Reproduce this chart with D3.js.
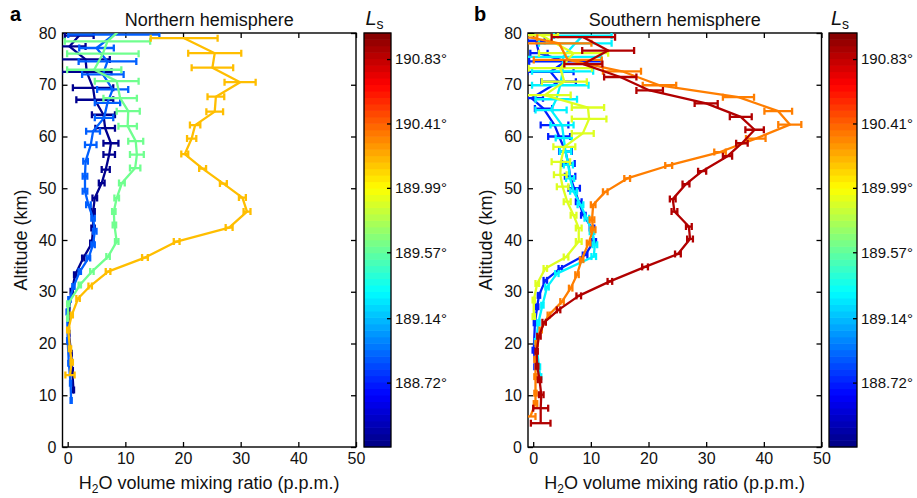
<!DOCTYPE html>
<html>
<head>
<meta charset="utf-8">
<script src="https://cdn.jsdelivr.net/npm/d3@7"></script>
<style>
body { margin: 0; background: #fff; }
svg { font-family: "Liberation Sans", Arial, Helvetica, sans-serif; }
</style>
</head>
<body>
<svg></svg>
<script>
const width = 917;
const height = 498;

// profiles: [altitude km, H2O ppm, error ppm]
const north_188_34 = [[79.5,2.0,2.5],[77.4,0.3,2.8],[74.9,3.1,4.2],[72.5,3.3,4.3],[69.4,4.4,3.5],[67.1,4.7,3.2],[64.2,6.2,2.0],[61.6,6.5,1.7],[58.7,7.5,1.3],[56.5,7.2,1.0],[53.6,6.6,0.7],[51.0,5.9,0.5],[48.1,4.7,0.4],[45.5,4.4,0.3],[42.3,4.4,0.3],[39.4,4.2,0.3],[36.5,2.7,0.2],[33.3,1.3,0.2],[30.1,0.7,0.2],[26.4,0.2,0.1],[22.0,0.2,0.1],[18.1,0.6,0.1],[14.8,0.8,0.1],[11.0,1.0,0.1]];
const north_188_89 = [[79.7,8.0,7.9],[77.1,5.0,3.0],[74.5,6.9,5.0],[72.0,6.1,3.6],[69.1,7.8,2.7],[66.5,6.9,2.2],[63.6,6.3,1.6],[61.0,4.4,1.2],[58.4,4.0,1.0],[55.2,3.1,0.4],[52.3,3.0,0.4],[49.4,3.0,0.4],[46.8,3.6,0.4],[44.2,4.4,0.3],[41.7,4.7,0.3],[39.1,4.4,0.3],[36.5,3.6,0.3],[33.9,2.1,0.2],[31.0,1.0,0.2],[28.5,0.3,0.2],[26.1,-0.1,0.1],[20.6,0.0,0.1],[16.2,0.2,0.1],[12.3,0.5,0.1],[9.0,0.6,0.1]];
const north_189_61 = [[81.0,9.5,8.0],[78.4,6.9,7.4],[76.0,6.1,6.2],[72.9,4.6,4.7],[70.7,8.5,3.8],[67.4,9.1,2.9],[64.9,10.5,2.0],[62.0,10.4,1.6],[59.1,11.8,1.3],[56.5,12.0,1.2],[53.9,11.7,0.9],[51.0,9.4,0.5],[48.1,8.5,0.4],[45.5,8.0,0.3],[42.9,8.1,0.3],[39.7,8.5,0.3],[36.8,7.0,0.3],[33.9,4.2,0.3],[31.3,2.1,0.2],[27.7,0.1,0.2],[24.9,0.0,0.1]];
const north_190_16 = [[79.0,20.2,5.8],[76.1,25.5,4.6],[73.3,25.1,3.6],[70.5,29.9,2.7],[67.7,25.7,1.45],[64.8,25.5,1.45],[62.2,22.1,0.9],[59.6,21.5,0.8],[56.6,20.3,0.6],[53.8,23.4,0.6],[50.9,27.0,0.6],[48.2,30.3,0.6],[45.5,31.1,0.6],[42.4,28.0,0.6],[39.7,18.9,0.5],[36.6,13.4,0.5],[33.9,7.0,0.4],[31.1,3.9,0.3],[28.7,1.8,0.3],[25.5,0.7,0.2],[22.6,0.1,0.2],[19.0,0.4,0.2],[16.4,0.7,0.2],[13.9,0.4,0.8]];

const south_188_72 = [[78.5,0.5,1.5],[76.1,1.0,1.5],[74.5,5.6,6.3],[72.5,3.0,4.0],[70.6,4.4,3.0],[67.4,-0.3,2.0],[65.4,1.8,1.5],[62.2,3.7,2.4],[60.0,4.5,1.9],[57.1,5.6,1.1],[54.8,6.1,1.1],[52.3,6.4,0.9],[50.0,7.1,1.0],[47.4,7.9,0.5],[44.8,8.7,0.4],[42.3,10.2,0.4],[39.7,10.5,0.4],[37.1,9.0,0.4],[34.5,4.7,0.3],[32.2,2.1,0.3],[29.3,1.0,0.2],[27.1,0.7,0.2],[24.0,0.3,0.2],[18.7,0.1,0.2],[15.5,0.4,0.2]];
const south_189_28 = [[79.5,8.6,5.0],[78.0,7.3,6.3],[75.4,5.2,6.6],[72.6,5.1,5.3],[69.9,4.7,4.9],[67.2,4.0,3.6],[65.1,3.1,2.7],[62.2,5.0,2.0],[59.7,5.3,1.4],[57.1,5.6,1.0],[54.5,6.1,0.8],[51.9,6.4,0.7],[49.4,7.0,0.6],[46.8,8.2,0.5],[44.2,9.3,0.4],[41.6,10.2,0.4],[39.1,10.7,0.4],[36.8,10.5,0.4],[33.5,4.1,0.3],[30.9,2.4,0.3],[27.4,1.6,0.2],[24.0,0.9,0.2],[20.4,0.5,0.2],[15.5,1.0,0.2],[13.6,1.2,0.2]];
const south_189_90 = [[79.6,1.3,3.0],[76.1,7.0,6.0],[73.2,4.7,5.5],[70.6,5.4,3.9],[68.0,2.0,4.5],[65.6,9.5,2.8],[63.4,9.7,3.0],[60.6,8.6,1.9],[58.0,5.4,1.9],[55.1,4.8,1.6],[52.6,4.7,1.1],[50.3,5.1,1.0],[47.4,5.9,0.6],[44.8,7.0,0.5],[42.3,7.9,0.5],[39.7,7.9,0.5],[36.7,5.7,0.4],[34.5,2.1,0.3],[31.6,0.7,0.3],[28.4,0.1,0.2],[25.2,0.1,0.2]];
const south_190_33 = [[79.1,-0.3,1.0],[78.0,4.5,5.6],[74.8,6.0,5.9],[72.6,15.4,3.3],[69.9,21.9,2.9],[67.6,35.6,2.7],[64.9,42.5,2.4],[62.3,44.5,2.0],[59.6,38.6,1.7],[57.0,32.4,1.0],[54.4,23.5,0.6],[51.9,16.3,0.5],[49.3,12.5,0.4],[46.8,10.4,0.4],[43.9,10.2,0.4],[42.0,10.4,0.4],[39.4,9.6,0.3],[36.2,8.4,0.3],[33.3,7.6,0.3],[30.7,6.5,0.3],[28.1,5.0,0.3],[25.5,2.7,0.2],[22.6,1.3,0.2],[20.0,0.6,0.2],[16.9,0.4,0.2],[13.6,0.4,0.2],[10.4,0.4,0.2],[8.4,0.4,0.3],[5.9,-0.5,0.9]];
const south_190_87 = [[79.2,8.7,5.5],[76.6,13.0,4.5],[74.0,8.7,3.3],[71.5,15.1,2.8],[68.9,20.2,2.3],[66.4,30.0,2.0],[63.8,36.0,1.9],[61.3,38.4,1.6],[58.7,36.2,1.0],[56.2,33.7,0.8],[53.3,29.3,0.7],[50.8,26.5,0.6],[47.9,24.2,0.5],[45.5,24.5,0.5],[42.6,27.0,0.5],[40.2,27.2,0.5],[37.3,25.1,0.5],[34.8,19.4,0.5],[32.0,13.3,0.4],[29.2,7.9,0.4],[26.5,4.4,0.3],[24.1,1.9,0.3],[21.4,1.0,0.3],[18.5,0.6,0.2],[15.6,0.7,0.2],[13.0,1.1,0.3],[10.1,1.4,0.4],[7.5,1.3,1.3],[4.6,1.3,1.7]];

const northLs = [188.34, 188.89, 189.61, 190.16];
const southLs = [188.72, 189.28, 189.90, 190.33, 190.87];
const northProfiles = [north_188_34, north_188_89, north_189_61, north_190_16];
const southProfiles = [south_188_72, south_189_28, south_189_90, south_190_33, south_190_87];

const xTicks = [0, 10, 20, 30, 40, 50];
const yTicks = [0, 10, 20, 30, 40, 50, 60, 70, 80];
const lsTicks = [188.72, 189.14, 189.57, 189.99, 190.41, 190.83];
const lsRange = [188.30, 191.00];

let svg = d3.select("svg")
    .attr("width", width)
    .attr("height", height);

// jet colormap
const jet = d3.scaleLinear()
    .domain([0, 0.125, 0.375, 0.625, 0.875, 1])
    .range(["#000080", "#0000ff", "#00ffff", "#ffff00", "#ff0000", "#800000"])
    .clamp(true);
const lsToT = d3.scaleLinear().domain(lsRange).range([0, 1]);
const lsColor = ls => jet(lsToT(ls));

const plotTop = 33, plotBottom = 447;

function drawPanel(p) {
    const g = svg.append("g");
    const x = d3.scaleLinear().domain([-0.9, 50]).range([p.left, p.right]);
    const y = d3.scaleLinear().domain([0, 80]).range([plotBottom, plotTop]);

    g.append("clipPath").attr("id", "clip" + p.letter)
        .append("rect")
        .attr("x", p.left).attr("y", plotTop)
        .attr("width", p.right - p.left).attr("height", plotBottom - plotTop);

    // axes, ticks inside
    g.append("g")
        .attr("transform", `translate(0,${plotBottom})`)
        .call(d3.axisBottom(x).tickValues(xTicks).tickSize(-5).tickPadding(6).tickSizeOuter(0));
    g.append("g")
        .attr("transform", `translate(0,${plotTop})`)
        .call(d3.axisTop(x).tickValues(xTicks).tickSize(-5).tickFormat("").tickSizeOuter(0));
    g.append("g")
        .attr("transform", `translate(${p.left},0)`)
        .call(d3.axisLeft(y).tickValues(yTicks).tickSize(-5).tickPadding(6).tickSizeOuter(0));
    g.append("g")
        .attr("transform", `translate(${p.right},0)`)
        .call(d3.axisRight(y).tickValues(yTicks).tickSize(-5).tickFormat("").tickSizeOuter(0));
    g.selectAll(".domain").remove();
    g.selectAll(".tick line").attr("stroke", "#000").attr("stroke-width", 1.3);
    g.selectAll(".tick text").attr("font-size", 16).attr("fill", "#111").attr("font-family", null);

    g.append("rect")
        .attr("x", p.left).attr("y", plotTop)
        .attr("width", p.right - p.left).attr("height", plotBottom - plotTop)
        .attr("fill", "none").attr("stroke", "#000").attr("stroke-width", 1.4);

    // profiles
    const plot = g.append("g").attr("clip-path", `url(#clip${p.letter})`);
    const line = d3.line().x(d => x(d[1])).y(d => y(d[0]));
    p.profiles.forEach((data, i) => {
        const c = lsColor(p.ls[i]);
        const pg = plot.append("g").attr("stroke", c).attr("stroke-width", 2.3).attr("fill", "none");
        const eb = pg.selectAll("g.eb").data(data).enter().append("g");
        eb.append("line")
            .attr("x1", d => x(d[1] - d[2])).attr("x2", d => x(d[1] + d[2]))
            .attr("y1", d => y(d[0])).attr("y2", d => y(d[0]));
        eb.append("line")
            .attr("x1", d => x(d[1] - d[2])).attr("x2", d => x(d[1] - d[2]))
            .attr("y1", d => y(d[0]) - 3.5).attr("y2", d => y(d[0]) + 3.5);
        eb.append("line")
            .attr("x1", d => x(d[1] + d[2])).attr("x2", d => x(d[1] + d[2]))
            .attr("y1", d => y(d[0]) - 3.5).attr("y2", d => y(d[0]) + 3.5);
        pg.append("path").datum(data).attr("d", line).attr("stroke-linejoin", "round");
    });

    // titles and labels
    g.append("text")
        .attr("x", (p.left + p.right) / 2).attr("y", 26)
        .attr("text-anchor", "middle").attr("font-size", 18).attr("fill", "#111")
        .text(p.title);
    g.append("text")
        .attr("x", p.letterX).attr("y", 21)
        .attr("font-size", 20).attr("font-weight", "bold").attr("fill", "#000")
        .text(p.letter);
    g.append("text")
        .attr("transform", `translate(${p.left - 36},${(plotTop + plotBottom) / 2}) rotate(-90)`)
        .attr("text-anchor", "middle").attr("font-size", 18).attr("fill", "#111")
        .text("Altitude (km)");
    const xl = g.append("text")
        .attr("x", (p.left + p.right) / 2).attr("y", 489)
        .attr("text-anchor", "middle").attr("font-size", 18).attr("fill", "#111");
    xl.append("tspan").text("H");
    xl.append("tspan").attr("font-size", 12).attr("dy", 4).text("2");
    xl.append("tspan").attr("dy", -4).text("O volume mixing ratio (p.p.m.)");

    // colour bar
    const cs = d3.scaleLinear().domain(lsRange).range([plotBottom, plotTop]);
    const n = 64;
    const bands = d3.range(n).map(k => lsRange[0] + (lsRange[1] - lsRange[0]) * k / n);
    const step = (lsRange[1] - lsRange[0]) / n;
    g.append("g").selectAll("rect").data(bands).enter().append("rect")
        .attr("x", p.cbLeft).attr("width", p.cbRight - p.cbLeft)
        .attr("y", d => cs(d + step) - 0.3)
        .attr("height", d => cs(d) - cs(d + step) + 0.6)
        .attr("fill", d => lsColor(d + step / 2));
    g.append("rect")
        .attr("x", p.cbLeft).attr("y", plotTop)
        .attr("width", p.cbRight - p.cbLeft).attr("height", plotBottom - plotTop)
        .attr("fill", "none").attr("stroke", "#000").attr("stroke-width", 1.3);
    const cax = g.append("g")
        .attr("transform", `translate(${p.cbRight},0)`)
        .call(d3.axisRight(cs).tickValues(lsTicks).tickSize(-4).tickPadding(4)
            .tickFormat(d => d.toFixed(2) + "°").tickSizeOuter(0));
    cax.select(".domain").remove();
    cax.selectAll(".tick line").attr("stroke", "#000").attr("stroke-width", 1.3);
    cax.selectAll(".tick text").attr("font-size", 15).attr("fill", "#111").attr("font-family", null);

    const ls = g.append("text")
        .attr("x", (p.cbLeft + p.cbRight) / 2 - 3).attr("y", 25)
        .attr("text-anchor", "middle").attr("fill", "#111");
    ls.append("tspan").attr("font-size", 20).attr("font-style", "italic").text("L");
    ls.append("tspan").attr("font-size", 14).attr("dy", 4).text("s");
}

drawPanel({letter: "a", letterX: 10, title: "Northern hemisphere", left: 62.5, right: 356,
    cbLeft: 364, cbRight: 391, profiles: northProfiles, ls: northLs});
drawPanel({letter: "b", letterX: 474, title: "Southern hemisphere", left: 528, right: 821.5,
    cbLeft: 829, cbRight: 857, profiles: southProfiles, ls: southLs});
</script>
</body>
</html>
